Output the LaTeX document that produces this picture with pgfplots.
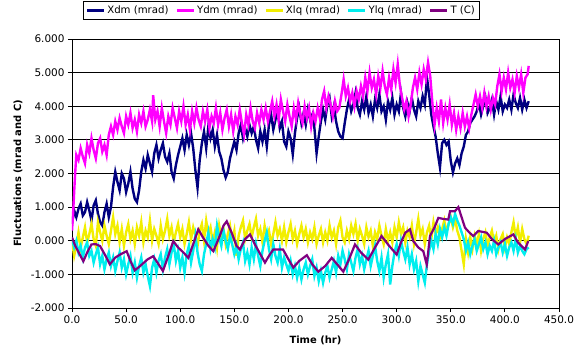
\documentclass[border=0pt]{standalone}
\usepackage{fontspec}
\setmainfont{DejaVu Sans}
\usepackage{pgfplots}
\pgfplotsset{compat=1.18}
\definecolor{cXdm}{RGB}{0,0,128}
\definecolor{cYdm}{RGB}{255,0,255}
\definecolor{cXlq}{RGB}{242,238,0}
\definecolor{cYlq}{RGB}{0,238,238}
\definecolor{cT}{RGB}{128,0,128}
\begin{document}
\begin{tikzpicture}
\begin{axis}[name=ax, scale only axis, width=487bp, height=269bp,
 xmin=0, xmax=450, ymin=-2, ymax=6,
 xtick={0,50,...,450}, ytick={-2,-1,...,6},
 xtick pos=left, ytick pos=left,
 ymajorgrids, major grid style={black, line width=0.8bp},
 axis line style={black, line width=0.8bp},
 tick style={black, line width=0.8bp},
 tick align=outside, major tick length=4bp,
 scaled ticks=false,
 /pgf/number format/assume math mode=true,
 xticklabel style={/pgf/number format/.cd, fixed, fixed zerofill, precision=1},
 yticklabel style={/pgf/number format/.cd, fixed, fixed zerofill, precision=3},
 tick label style={font=\fontsize{10.5}{12}\selectfont},
 xlabel={\bfseries Time (hr)}, ylabel={\bfseries Fluctuations (mrad and C)},
 label style={font=\fontsize{10}{12}\selectfont},
 xlabel style={at={(axis description cs:0.5,-0.119)}, anchor=center},
 ylabel style={at={(axis description cs:-0.111,0.5)}, anchor=center},
 legend columns=5,
 legend style={at={(axis description cs:0.430,1.141)}, anchor=north, draw=black, line width=0.8bp,
   font=\fontsize{10.2}{12}\selectfont, inner sep=2.5bp,
   /tikz/every even column/.append style={column sep=5bp}},
 legend image code/.code={\draw[#1, line width=2.5bp] (0bp,0bp) -- (17bp,0bp);},
]
\addplot[cXdm, line width=2.4bp] coordinates {
(0,0.50) (2,0.90) (4,0.70) (6,0.95) (8,1.10) (10,0.75) (12,0.85) (14,1.15) (16,0.90) (18,0.60)
(20,1.05) (22,1.20) (24,0.80) (26,0.55) (28,0.45) (30,0.85) (32,1.10) (34,0.70) (36,1.00) (38,1.60)
(40,2.05) (42,1.75) (44,1.50) (46,2.00) (48,1.85) (50,1.45) (52,1.70) (54,2.05) (56,1.55) (58,1.25)
(60,1.15) (62,1.50) (64,2.05) (66,2.40) (68,2.15) (70,2.55) (72,2.30) (74,2.05) (76,2.60) (78,2.85)
(80,2.45) (82,2.70) (84,2.90) (86,2.50) (88,2.35) (90,2.60) (92,2.05) (94,1.85) (96,2.25) (98,2.55)
(100,2.80) (102,3.05) (104,2.70) (106,3.15) (108,2.85) (110,3.20) (112,2.75) (114,2.10) (116,1.58) (118,2.40)
(120,2.90) (122,3.25) (124,2.75) (126,3.40) (128,3.05) (130,3.30) (132,2.80) (134,3.15) (136,2.65) (138,2.45)
(140,2.10) (142,1.88) (144,2.05) (146,2.45) (148,2.70) (150,2.95) (152,2.70) (154,3.20) (156,3.45) (158,3.05)
(160,3.35) (162,3.10) (164,3.45) (166,3.20) (168,3.40) (170,3.00) (172,2.75) (174,3.25) (176,2.95) (178,3.30)
(180,2.80) (182,3.45) (184,3.75) (186,3.30) (188,3.60) (190,3.85) (192,3.35) (194,3.55) (196,2.95) (198,2.80)
(200,3.25) (202,3.05) (204,2.57) (206,3.20) (208,3.65) (210,3.95) (212,3.50) (214,3.80) (216,3.45) (218,3.90)
(220,3.60) (222,3.75) (224,3.35) (226,2.60) (228,3.10) (230,3.55) (232,3.90) (234,3.60) (236,4.05) (238,4.25)
(240,3.70) (242,4.00) (244,3.55) (246,3.25) (248,3.10) (250,3.05) (252,3.50) (254,3.90) (256,4.20) (258,3.85)
(260,4.05) (262,4.40) (264,3.95) (266,3.75) (268,4.15) (270,3.90) (272,4.30) (274,3.80) (276,4.05) (278,3.70)
(280,4.20) (282,3.95) (284,4.35) (286,3.85) (288,4.00) (290,3.60) (292,4.15) (294,3.90) (296,4.25) (298,3.75)
(300,4.05) (302,3.85) (304,4.40) (306,3.95) (308,3.70) (310,4.10) (312,3.85) (314,4.25) (316,3.90) (318,3.70)
(320,4.15) (322,3.95) (324,4.30) (326,4.05) (328,4.85) (330,4.35) (332,3.75) (334,3.40) (336,3.10) (338,2.60)
(340,2.18) (342,2.90) (344,3.00) (346,2.85) (348,2.95) (350,2.37) (352,2.03) (354,2.30) (356,2.45) (358,2.25)
(360,2.60) (362,2.80) (364,3.15) (366,3.25) (368,3.50) (370,3.60) (372,3.70) (374,3.85) (376,4.10) (378,3.75)
(380,4.00) (382,4.25) (384,3.80) (386,3.95) (388,4.20) (390,3.75) (392,4.15) (394,3.90) (396,4.30) (398,3.85)
(400,4.05) (402,3.95) (404,4.20) (406,3.90) (408,4.35) (410,4.10) (412,3.95) (414,4.25) (416,3.90) (418,4.20)
(420,3.95) (422,4.15)
};
\addlegendentry{Xdm (mrad)}
\addplot[cYdm, line width=2.4bp] coordinates {
(0,0.30) (1,0.80) (2,1.45) (3,2.05) (4,2.55) (6,2.40) (8,2.75) (10,2.50) (12,2.30) (14,2.85)
(16,2.60) (18,3.05) (20,2.70) (22,2.45) (24,2.90) (26,3.05) (28,2.65) (30,2.85) (32,2.55) (34,3.15)
(36,3.40) (38,3.15) (40,3.55) (42,3.30) (44,3.65) (46,3.40) (48,3.20) (50,3.70) (52,3.45) (54,3.80)
(56,3.35) (58,3.60) (60,3.25) (62,3.75) (64,3.50) (66,3.85) (68,3.40) (70,3.60) (72,3.90) (74,3.55)
(75,4.33) (77,3.60) (79,3.85) (81,3.40) (83,3.95) (85,3.55) (87,3.20) (89,3.70) (91,3.45) (93,3.95)
(95,3.65) (97,3.35) (99,3.85) (101,3.55) (103,4.00) (105,3.45) (107,3.75) (109,3.30) (111,3.85) (113,3.50)
(115,3.95) (117,3.60) (119,3.40) (121,3.85) (123,3.55) (125,3.90) (127,3.35) (129,3.70) (131,3.50) (133,3.95)
(135,3.45) (137,3.80) (139,3.30) (141,3.65) (143,3.90) (145,3.40) (147,3.75) (149,3.25) (151,3.70) (153,3.45)
(155,3.90) (157,3.50) (159,3.15) (161,3.75) (163,3.45) (165,3.95) (167,3.55) (169,3.35) (171,3.80) (173,3.50)
(175,3.90) (177,3.60) (179,3.95) (181,3.55) (183,3.85) (185,4.15) (187,3.70) (189,4.05) (191,3.60) (193,4.20)
(195,3.85) (197,3.55) (199,4.05) (201,3.70) (203,3.40) (205,3.95) (207,3.60) (209,4.10) (211,3.75) (213,3.50)
(215,4.00) (217,3.65) (219,3.95) (221,3.40) (223,3.80) (225,3.55) (227,3.95) (229,3.65) (231,4.20) (233,4.45)
(235,3.95) (237,4.30) (239,4.05) (241,3.70) (243,4.15) (245,3.85) (247,3.95) (249,4.35) (251,4.80) (253,4.30)
(255,4.55) (257,4.15) (259,4.40) (261,4.00) (263,4.45) (265,4.20) (267,4.60) (269,4.30) (271,4.85) (273,4.45)
(275,5.00) (277,4.55) (279,4.80) (281,4.35) (283,4.90) (285,4.55) (287,5.05) (289,4.60) (291,4.35) (293,4.85)
(295,4.50) (297,5.10) (299,4.70) (301,5.25) (303,4.60) (305,4.25) (307,3.90) (309,4.15) (311,3.70) (313,4.05)
(315,4.55) (317,4.85) (319,4.50) (321,5.00) (323,4.65) (325,5.10) (327,4.80) (329,5.30) (331,4.90) (333,4.10)
(335,3.45) (337,3.95) (339,3.55) (341,4.20) (343,3.50) (345,3.95) (347,3.60) (349,4.05) (351,3.45) (353,3.80)
(355,3.30) (357,3.70) (359,3.35) (361,3.80) (363,3.40) (365,3.70) (367,3.35) (369,3.75) (371,4.05) (373,4.35)
(375,4.00) (377,4.30) (379,3.95) (381,4.40) (383,4.00) (385,4.30) (387,3.90) (389,4.25) (391,4.05) (393,4.60)
(395,4.95) (397,4.45) (399,4.85) (401,4.50) (403,5.00) (405,4.55) (407,4.80) (409,4.40) (411,4.90) (413,4.55)
(415,4.95) (417,4.40) (419,4.85) (421,4.95) (422,5.20)
};
\addlegendentry{Ydm (mrad)}
\addplot[cXlq, line width=2.4bp] coordinates {
(0,0.00) (2,-0.45) (4,-0.15) (6,0.25) (8,-0.20) (10,0.10) (12,0.40) (14,-0.05) (16,0.20) (18,0.50)
(20,0.05) (22,-0.15) (24,0.55) (26,0.25) (28,0.00) (30,0.45) (32,0.15) (34,-0.10) (36,0.30) (38,0.70)
(40,0.20) (42,0.45) (44,-0.05) (46,0.35) (48,-0.15) (50,0.25) (52,0.50) (54,0.05) (56,0.30) (58,-0.10)
(60,0.40) (62,0.15) (64,0.55) (66,-0.05) (68,0.30) (70,0.10) (72,0.60) (74,0.00) (76,0.35) (78,0.15)
(80,-0.10) (82,0.45) (84,0.05) (86,0.30) (88,0.65) (90,0.15) (92,0.40) (94,-0.05) (96,0.25) (98,0.50)
(100,0.10) (102,0.35) (104,-0.10) (106,0.20) (108,0.55) (110,0.05) (112,0.40) (114,0.15) (116,-0.15) (118,0.30)
(120,0.50) (122,0.00) (124,0.60) (126,0.20) (128,0.40) (130,-0.05) (132,0.25) (134,-0.20) (136,0.45) (138,0.10)
(140,0.35) (142,-0.10) (144,0.20) (146,0.45) (148,0.00) (150,0.30) (152,-0.45) (154,0.15) (156,0.40) (158,0.60)
(160,0.05) (162,0.30) (164,0.50) (166,0.10) (168,0.40) (170,0.65) (172,0.15) (174,0.35) (176,-0.05) (178,0.45)
(180,0.10) (182,0.30) (184,-0.10) (186,0.20) (188,0.55) (190,0.15) (192,0.35) (194,0.00) (196,0.40) (198,-0.05)
(200,0.25) (202,0.50) (204,0.05) (206,0.30) (208,-0.10) (210,0.20) (212,0.45) (214,0.10) (216,0.35) (218,-0.05)
(220,0.25) (222,0.05) (224,0.40) (226,-0.10) (228,0.15) (230,0.35) (232,-0.05) (234,0.25) (236,0.00) (238,0.45)
(240,0.10) (242,0.30) (244,-0.10) (246,0.40) (248,0.60) (250,0.10) (252,-0.05) (254,0.30) (256,0.05) (258,0.45)
(260,0.20) (262,0.50) (264,0.00) (266,0.35) (268,0.15) (270,-0.10) (272,0.40) (274,0.10) (276,0.30) (278,-0.15)
(280,0.25) (282,0.05) (284,0.45) (286,0.15) (288,-0.10) (290,0.35) (292,0.00) (294,0.25) (296,-0.05) (298,0.40)
(300,0.10) (302,0.55) (304,0.20) (306,0.40) (308,-0.05) (310,0.30) (312,0.10) (314,0.45) (316,-0.10) (318,0.25)
(320,0.65) (322,0.15) (324,0.35) (326,-0.10) (328,0.25) (330,0.45) (332,0.05) (334,0.55) (336,0.20) (338,0.40)
(340,0.10) (342,0.35) (344,0.60) (346,0.25) (348,0.50) (350,0.70) (352,0.40) (354,0.65) (356,0.30) (358,0.10)
(360,-0.30) (362,-0.70) (364,0.05) (366,-0.35) (368,0.10) (370,-0.25) (372,0.15) (374,-0.10) (376,0.20) (378,-0.30)
(380,0.05) (382,0.25) (384,-0.15) (386,0.10) (388,0.30) (390,-0.05) (392,0.15) (394,-0.25) (396,0.05) (398,0.20)
(400,-0.20) (402,0.10) (404,-0.10) (406,0.25) (408,0.55) (410,0.10) (412,0.40) (414,-0.05) (416,0.35) (418,0.05)
(420,-0.10) (422,0.15)
};
\addlegendentry{Xlq (mrad)}
\addplot[cYlq, line width=2.4bp] coordinates {
(0,0.05) (2,-0.20) (4,0.00) (6,-0.35) (8,-0.15) (10,-0.50) (12,-0.20) (14,-0.05) (16,-0.45) (18,-0.30)
(20,-0.65) (22,-0.40) (24,-0.20) (26,-0.70) (28,-0.45) (30,-0.85) (32,-0.55) (34,-0.35) (36,-0.75) (38,-0.50)
(40,-0.90) (42,-0.60) (44,-0.35) (46,-0.80) (48,-0.55) (50,-1.00) (52,-0.70) (54,-0.45) (56,-0.95) (58,-0.65)
(60,-1.10) (62,-0.75) (64,-0.50) (66,-0.95) (68,-0.70) (70,-1.05) (72,-1.35) (74,-0.80) (76,-0.55) (78,-0.95)
(80,-0.60) (82,-0.40) (84,-0.85) (86,-0.50) (88,-0.25) (90,-0.70) (92,-0.35) (94,-0.10) (96,-0.60) (98,-0.30)
(100,-0.80) (102,-0.50) (104,-0.95) (106,-0.40) (108,-0.15) (110,-0.65) (112,-0.30) (114,0.15) (116,-0.35) (118,-0.70)
(120,-0.90) (122,-0.40) (124,-0.10) (126,0.25) (128,-0.25) (130,0.05) (132,-0.20) (134,0.45) (136,0.10) (138,-0.15)
(140,0.30) (142,0.00) (144,-0.25) (146,0.15) (148,-0.10) (150,-0.40) (152,-0.15) (154,-0.55) (156,-0.25) (158,-0.05)
(160,-0.60) (162,-0.35) (164,-0.70) (166,-0.20) (168,-0.55) (170,-0.10) (172,-0.45) (174,-0.75) (176,-0.30) (178,0.00)
(180,0.25) (182,-0.25) (184,-0.55) (186,-0.10) (188,-0.45) (190,-0.65) (192,-0.25) (194,-0.80) (196,-0.50) (198,-0.70)
(200,-0.90) (202,-0.60) (204,-1.00) (206,-0.75) (208,-1.10) (210,-0.80) (212,-1.15) (214,-0.85) (216,-0.65) (218,-1.00)
(220,-0.75) (222,-0.55) (224,-1.05) (226,-0.80) (228,-1.20) (230,-0.90) (232,-1.25) (234,-0.95) (236,-0.75) (238,-1.10)
(240,-0.85) (242,-0.60) (244,-0.95) (246,-0.45) (248,-0.70) (250,-0.30) (252,-0.55) (254,-0.85) (256,-0.40) (258,-0.65)
(260,-0.90) (262,-0.50) (264,-0.25) (266,-0.70) (268,-0.45) (270,-0.85) (272,-0.55) (274,-0.30) (276,-0.75) (278,-0.45)
(280,-0.15) (282,-0.60) (284,-0.90) (286,-0.50) (288,-1.10) (290,-0.70) (292,-0.40) (294,-1.30) (296,-0.75) (298,-0.35)
(300,-0.10) (302,-0.45) (304,0.00) (306,-0.30) (308,-0.55) (310,-0.20) (312,-0.70) (314,-0.40) (316,-0.85) (318,-0.60)
(320,-1.20) (322,-0.75) (324,-1.00) (326,-1.25) (328,-0.70) (330,-0.30) (332,0.00) (334,-0.25) (336,0.20) (338,-0.10)
(340,0.35) (342,0.10) (344,0.40) (346,0.15) (348,0.50) (350,0.70) (352,0.50) (354,0.80) (356,0.60) (358,0.45)
(360,0.25) (362,0.05) (364,-0.30) (366,-0.05) (368,-0.40) (370,-0.15) (372,0.05) (374,-0.30) (376,-0.10) (378,0.10)
(380,-0.25) (382,-0.05) (384,-0.40) (386,-0.15) (388,-0.30) (390,0.00) (392,-0.40) (394,-0.20) (396,-0.05) (398,-0.35)
(400,-0.10) (402,-0.45) (404,-0.20) (406,-0.05) (408,-0.30) (410,0.05) (412,-0.35) (414,-0.15) (416,-0.30) (418,-0.40)
(420,-0.25) (422,-0.20)
};
\addlegendentry{Ylq (mrad)}
\addplot[cT, line width=2.2bp] coordinates {
(0,0.10) (3,-0.15) (7,-0.40) (10.5,-0.61) (14,-0.35) (18,-0.11) (22,-0.10) (26,-0.16) (31,-0.45) (35,-0.70)
(40,-0.50) (45,-0.40) (50.5,-0.31) (54,-0.60) (58,-0.88) (63,-0.75) (70,-0.55) (75,-0.46) (80,-0.70) (84,-0.90)
(89,-0.45) (93.6,-0.01) (98,-0.20) (103,-0.35) (107.5,-0.51) (112,-0.10) (116.7,0.34) (121,0.10) (126,-0.15) (130.6,-0.31)
(136,0.10) (140,0.45) (143,0.58) (148,0.20) (152,-0.15) (155.2,-0.26) (160,0.05) (164.5,0.19) (169,-0.11) (174,-0.40)
(178.3,-0.65) (182,-0.45) (186,-0.26) (195,-0.26) (200,-0.55) (204.5,-0.80) (210,-0.60) (217,-0.43) (222,-0.70) (227.6,-0.92)
(234,-0.75) (240,-0.51) (245,-0.70) (250.7,-0.92) (256,-0.55) (261.5,-0.11) (267,-0.35) (273.8,-0.56) (280,-0.20) (286,0.14)
(293,-0.15) (300,-0.41) (304,-0.05) (308,0.24) (312.3,0.34) (315.4,-0.01) (320,-0.20) (324.6,-0.31) (327.8,-0.71) (330.8,0.14)
(335,0.40) (338.5,0.68) (343,0.65) (347.7,0.63) (349.3,0.88) (353.9,0.88) (357,1.00) (360,0.70) (363.1,0.39) (367,0.25)
(370.8,0.14) (375.4,0.29) (383.2,0.24) (388,0.05) (393.9,-0.11) (400,0.05) (407.8,0.19) (412,-0.05) (418.6,-0.26) (421.6,-0.01)
};
\addlegendentry{T (C)}
\end{axis}
\pgfresetboundingbox
\path ([shift={(-72bp,-48bp)}]ax.south west) rectangle ([shift={(26bp,39bp)}]ax.north east);
\end{tikzpicture}
\end{document}
